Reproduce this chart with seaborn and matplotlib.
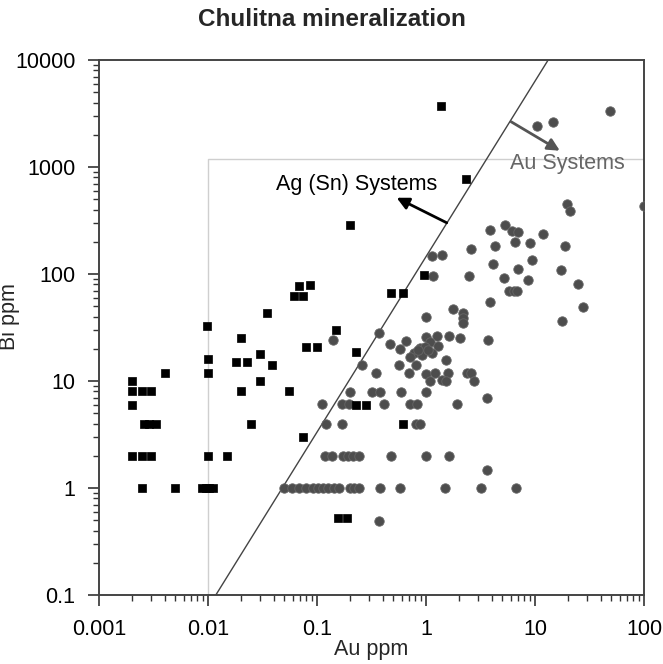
import matplotlib
matplotlib.use("Agg")
import matplotlib.pyplot as plt
import seaborn as sns
import pandas as pd
from matplotlib.ticker import FixedLocator, LogLocator, NullFormatter

# ---------------- data ----------------
# Ag (Sn) systems  -> black squares
ag_au = [0.002, 0.002, 0.002, 0.002, 0.0025, 0.003, 0.0026, 0.0029, 0.0033, 0.0025,
         0.003, 0.0025, 0.004, 0.005, 0.0088, 0.0095, 0.0103, 0.011, 0.01, 0.0097,
         0.0099, 0.01, 0.015, 0.018, 0.023, 0.02, 0.02, 0.025, 0.03, 0.039,
         0.03, 0.055, 0.075, 0.035, 0.061, 0.075, 0.068, 0.086, 0.08, 0.1,
         0.15, 0.23, 0.23, 0.28, 0.48, 0.61, 0.95, 0.62, 0.155, 0.19,
         0.2, 1.36, 2.33]
ag_bi = [10, 8, 6, 2, 8, 8, 4, 4, 4, 2,
         2, 1, 12, 1, 1, 1, 1, 1, 2, 33,
         16, 12, 2, 15, 15, 25, 8, 4, 18, 14,
         10, 8, 3, 43, 62, 62, 78, 79, 21, 21,
         30, 18.5, 6, 6, 67, 67, 98, 4, 0.52, 0.52,
         290, 3700, 770]

# Au systems -> grey circles
au_au = [0.05, 0.059, 0.069, 0.079, 0.091, 0.103, 0.113, 0.127, 0.143, 0.16,
         0.2, 0.22, 0.241, 0.38, 0.58, 1.49, 3.2, 6.65,
         0.118, 0.138, 0.174, 0.194, 0.213, 0.243, 0.474, 1.01, 1.62, 3.6,
         0.12, 0.171, 0.81, 0.89,
         0.11, 0.168, 0.197, 0.41, 0.72, 0.83, 1.92, 3.6,
         0.2, 0.318, 0.378, 0.59, 1.01,
         0.26, 0.35, 0.37, 0.14, 0.47, 0.58, 0.66, 0.56, 0.70, 1.0,
         1.76, 1.13, 1.39, 10.4, 14.5, 49, 99, 19.5, 21, 5.3,
         6.2, 7.0, 3.9, 11.8, 6.6, 4.3, 9.0, 19, 2.6, 9.3,
         4.1, 7.0, 17.3, 1.16, 2.5, 5.2, 8.7, 24.7, 5.8, 6.4,
         6.9, 3.9, 27.4, 2.2, 2.2, 2.2, 17.8, 0.37,
         1.0, 1.25, 1.63, 2.05, 3.7, 1.09, 1.3, 0.88, 0.98, 0.77,
         0.71, 0.92, 1.13, 1.52, 0.81, 1.0, 1.21, 1.09, 1.6, 1.41,
         1.52, 2.36, 2.57, 2.75, 0.84, 1.05]
au_bi = [1, 1, 1, 1, 1, 1, 1, 1, 1, 1,
         1, 1, 1, 1, 1, 1, 1, 1,
         2, 2, 2, 2, 2, 2, 2, 2, 2, 1.47,
         4, 4, 4, 4,
         6.1, 6.1, 6.1, 6.1, 6.1, 6.1, 6.1, 6.9,
         7.9, 7.9, 7.9, 7.9, 7.9,
         14, 12, 28, 24, 22, 20, 23.5, 14, 12, 40,
         47, 148, 150, 2430, 2650, 3330, 430, 450, 390, 290,
         253, 245, 258, 236, 200, 183, 194, 183, 170, 135,
         123, 111, 109, 96, 96, 91, 88, 81, 70, 70,
         70, 55, 49, 43, 38.5, 34.6, 36, 0.49,
         26, 26.5, 26.5, 25, 24, 23, 21.4, 20.5, 21, 18.4,
         16.6, 17.5, 18.2, 15.7, 14, 11.6, 11.9, 10, 11.9, 10.2,
         10.1, 11.9, 11.8, 10, 19.3, 19.6]

x_ticks = [0.001, 0.01, 0.1, 1, 10, 100]
x_ticklabels = ["0.001", "0.01", "0.1", "1", "10", "100"]
y_ticks = [0.1, 1, 10, 100, 1000, 10000]
y_ticklabels = ["0.1", "1", "10", "100", "1000", "10000"]

# discriminant line and field box
line_au = [0.0118, 13.2]
line_bi = [0.1, 10000]
box_au = [0.01, 0.01, 100]
box_bi = [0.1, 1200, 1200]

df_ag = pd.DataFrame({"Au": ag_au, "Bi": ag_bi})
df_au = pd.DataFrame({"Au": au_au, "Bi": au_bi})

# ---------------- plotting ----------------
sns.set_theme(style="ticks")
plt.rcParams['font.family'] = ['Liberation Sans', 'DejaVu Sans']

fig = plt.figure(figsize=(6.63, 6.64), dpi=100)
ax = fig.add_axes([99 / 663, 69 / 664, 545 / 663, 535 / 664])
ax.set_xscale("log")
ax.set_yscale("log")

ax.plot(box_au, box_bi, color="#cfcfcf", lw=1.0, zorder=1)
ax.plot(line_au, line_bi, color="#444444", lw=1.0, zorder=2)

sns.scatterplot(data=df_au, x="Au", y="Bi", ax=ax, marker="o", s=46,
                color="#4d4d4d", edgecolor="#666666", linewidth=0.6, zorder=3)
sns.scatterplot(data=df_ag, x="Au", y="Bi", ax=ax, marker="s", s=38,
                color="black", edgecolor="black", linewidth=0.5, zorder=4)

ax.set_xlim(0.001, 100)
ax.set_ylim(0.1, 10000)

ax.xaxis.set_major_locator(FixedLocator(x_ticks))
ax.set_xticklabels(x_ticklabels)
ax.yaxis.set_major_locator(FixedLocator(y_ticks))
ax.set_yticklabels(y_ticklabels)
ax.xaxis.set_minor_locator(LogLocator(base=10, subs=range(2, 10), numticks=20))
ax.yaxis.set_minor_locator(LogLocator(base=10, subs=range(2, 10), numticks=20))
ax.xaxis.set_minor_formatter(NullFormatter())
ax.yaxis.set_minor_formatter(NullFormatter())

ax.tick_params(axis="both", which="major", direction="out", length=8, width=1.2,
               color="#333333", labelsize=15.5, labelcolor="black")
ax.tick_params(axis="both", which="minor", direction="out", length=4.5, width=1.0,
               color="#333333")
ax.tick_params(axis="y", which="major", pad=9)
ax.tick_params(axis="x", which="major", pad=9)
ax.tick_params(top=False, right=False, which="both")

for sp in ax.spines.values():
    sp.set_color("#444444")
    sp.set_linewidth(1.4)

ax.set_xlabel("Au ppm", fontsize=15.5)
ax.set_ylabel("Bi ppm", fontsize=15.5)
ax.xaxis.set_label_coords(0.5, -0.082)
ax.yaxis.set_label_coords(-0.145, 0.52)

# annotations
ax.annotate("", xy=(16.9, 1420), xytext=(6.03, 2650),
            arrowprops=dict(arrowstyle="-|>", color="#555555", lw=2,
                            mutation_scale=18, shrinkA=0, shrinkB=0))
ax.text(19.7, 1089, "Au Systems", ha="center", va="center",
        color="#666666", fontsize=15.5)
ax.annotate("", xy=(0.538, 516), xytext=(1.55, 301),
            arrowprops=dict(arrowstyle="-|>", color="black", lw=2,
                            mutation_scale=18, shrinkA=0, shrinkB=0))
ax.text(0.23, 680, "Ag (Sn) Systems", ha="center", va="center",
        color="black", fontsize=15.5)

fig.text(0.5, 1 - 20 / 664, "Chulitna mineralization", ha="center",
         va="center", fontsize=17.5, fontweight="bold")

fig.savefig("out.png", dpi=100)
